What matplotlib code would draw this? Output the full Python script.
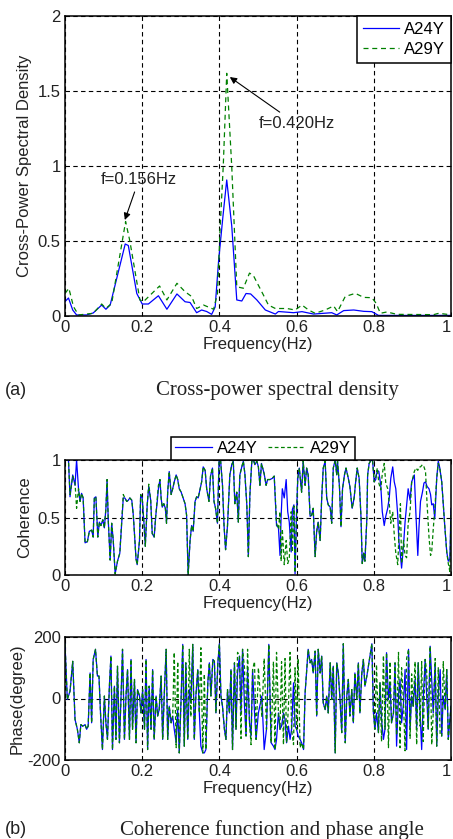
import matplotlib
matplotlib.use('Agg')
import matplotlib.pyplot as plt
import numpy as np

plt.rcParams.update({'font.family': ['Liberation Sans', 'DejaVu Sans'],
                     'font.size': 12})

# (a) cross-power spectral density
cpsd_f_a24 = [0.000, 0.009, 0.020, 0.030, 0.056, 0.073, 0.095, 0.106, 0.117, 0.156,
              0.164, 0.186, 0.200, 0.216, 0.242, 0.264, 0.290, 0.311, 0.324, 0.341,
              0.354, 0.367, 0.380, 0.389, 0.398, 0.409, 0.419, 0.432, 0.445, 0.458,
              0.469, 0.481, 0.497, 0.519, 0.545, 0.553, 0.592, 0.614, 0.644, 0.670,
              0.691, 0.704, 0.722, 0.748, 0.774, 0.795, 0.812, 0.869, 1.000]
cpsd_a24 = [0.096, 0.120, 0.040, 0.007, 0.007, 0.020, 0.073, 0.045, 0.073, 0.480,
            0.470, 0.150, 0.080, 0.080, 0.135, 0.045, 0.147, 0.095, 0.090, 0.022,
            0.040, 0.030, 0.011, 0.060, 0.370, 0.660, 0.907, 0.600, 0.107, 0.100,
            0.150, 0.147, 0.107, 0.040, 0.013, 0.030, 0.022, 0.029, 0.013, 0.018,
            0.022, 0.007, 0.036, 0.040, 0.031, 0.029, 0.004, 0.004, 0.004]

cpsd_f_a29 = [0.000, 0.010, 0.022, 0.035, 0.073, 0.095, 0.106, 0.121, 0.157, 0.168,
              0.194, 0.203, 0.245, 0.264, 0.290, 0.311, 0.328, 0.341, 0.359, 0.385,
              0.395, 0.402, 0.410, 0.419, 0.432, 0.445, 0.462, 0.478, 0.488, 0.514,
              0.527, 0.545, 0.575, 0.596, 0.614, 0.631, 0.648, 0.674, 0.696, 0.706,
              0.726, 0.752, 0.774, 0.795, 0.806, 0.817, 0.834, 0.860, 0.955, 0.968,
              0.990, 1.000]
cpsd_a29 = [0.150, 0.185, 0.062, 0.007, 0.018, 0.080, 0.050, 0.085, 0.630, 0.500,
            0.107, 0.095, 0.200, 0.107, 0.218, 0.162, 0.130, 0.050, 0.073, 0.045,
            0.150, 0.595, 1.000, 1.618, 0.995, 0.195, 0.185, 0.286, 0.270, 0.140,
            0.073, 0.050, 0.050, 0.040, 0.073, 0.040, 0.018, 0.040, 0.067, 0.029,
            0.130, 0.151, 0.124, 0.122, 0.085, 0.018, 0.027, 0.011, 0.009, 0.018,
            0.011, 0.009]

# (b) coherence
coh_f = [0.000, 0.009, 0.013, 0.020, 0.026, 0.030, 0.035, 0.039, 0.043, 0.047,
         0.052, 0.058, 0.063, 0.069, 0.073, 0.076, 0.080, 0.085, 0.089, 0.093,
         0.098, 0.102, 0.106, 0.109, 0.112, 0.117, 0.121, 0.125, 0.130, 0.136,
         0.142, 0.151, 0.155, 0.160, 0.164, 0.168, 0.173, 0.177, 0.184, 0.187,
         0.193, 0.196, 0.200, 0.205, 0.208, 0.213, 0.217, 0.222, 0.226, 0.231,
         0.235, 0.239, 0.242, 0.246, 0.249, 0.252, 0.256, 0.260, 0.263, 0.266,
         0.270, 0.275, 0.279, 0.283, 0.288, 0.292, 0.296, 0.301, 0.305, 0.311,
         0.315, 0.319, 0.324, 0.328, 0.332, 0.337, 0.341, 0.345, 0.350, 0.354,
         0.358, 0.363, 0.367, 0.373, 0.377, 0.382, 0.386, 0.390, 0.395, 0.399,
         0.403, 0.408, 0.412, 0.416, 0.421, 0.427, 0.432, 0.436, 0.440, 0.445,
         0.449, 0.453, 0.458, 0.462, 0.466, 0.471, 0.475, 0.479, 0.484, 0.488,
         0.492, 0.497, 0.501, 0.505, 0.509, 0.516, 0.521, 0.525, 0.531, 0.537,
         0.542, 0.546, 0.548, 0.553, 0.557, 0.560, 0.563, 0.568, 0.573, 0.577,
         0.581, 0.586, 0.589, 0.593, 0.596, 0.600, 0.603, 0.607, 0.613, 0.617,
         0.622, 0.626, 0.630, 0.635, 0.639, 0.643, 0.648, 0.652, 0.656, 0.661,
         0.665, 0.669, 0.674, 0.678, 0.682, 0.687, 0.691, 0.695, 0.700, 0.704,
         0.706, 0.711, 0.715, 0.719, 0.724, 0.728, 0.734, 0.738, 0.744, 0.749,
         0.753, 0.757, 0.762, 0.767, 0.770, 0.774, 0.777, 0.782, 0.784, 0.788,
         0.793, 0.797, 0.801, 0.805, 0.809, 0.813, 0.818, 0.822, 0.827, 0.831,
         0.836, 0.840, 0.844, 0.849, 0.853, 0.857, 0.862, 0.865, 0.869, 0.872,
         0.877, 0.881, 0.885, 0.889, 0.894, 0.898, 0.905, 0.909, 0.914, 0.917,
         0.921, 0.926, 0.930, 0.934, 0.938, 0.943, 0.947, 0.950, 0.954, 0.958,
         0.963, 0.967, 0.971, 0.976, 0.980, 0.984, 0.989, 0.993, 0.997, 1.000]
coh_a24 = [1.00, 1.00, 0.68, 0.87, 0.78, 1.00, 0.75, 0.64, 0.71, 0.67,
           0.28, 0.29, 0.38, 0.39, 0.33, 0.67, 0.68, 0.33, 0.46, 0.43,
           0.48, 0.41, 0.58, 0.83, 0.48, 0.13, 0.45, 0.30, 0.01, 0.12,
           0.19, 0.67, 0.67, 0.64, 0.65, 0.67, 0.65, 0.52, 0.14, 0.09,
           0.30, 0.70, 0.67, 0.43, 0.25, 0.61, 0.77, 0.65, 0.36, 0.33,
           0.51, 0.64, 0.75, 0.83, 0.67, 0.59, 0.62, 0.58, 0.45, 0.72,
           0.90, 0.70, 0.75, 0.81, 0.87, 0.83, 0.75, 0.72, 0.68, 0.62,
           0.52, 0.00, 0.30, 0.43, 0.38, 0.64, 0.68, 0.67, 0.75, 0.81,
           0.94, 0.91, 0.75, 0.64, 0.86, 0.93, 0.64, 0.58, 0.45, 0.99,
           1.00, 0.78, 0.43, 0.22, 0.43, 0.87, 0.96, 0.99, 0.62, 0.72,
           0.46, 0.87, 0.94, 0.99, 0.88, 0.61, 0.16, 0.70, 0.99, 1.00,
           0.96, 0.99, 0.94, 0.78, 0.97, 0.88, 0.78, 0.83, 0.83, 0.84,
           0.86, 0.58, 0.43, 0.41, 0.17, 0.52, 0.75, 0.67, 0.83, 0.55,
           0.46, 0.20, 0.57, 0.61, 0.01, 0.55, 0.84, 0.93, 0.72, 0.99,
           0.78, 0.93, 0.87, 0.51, 0.52, 0.58, 0.16, 0.38, 0.46, 0.30,
           0.67, 0.93, 0.99, 0.67, 0.61, 0.59, 0.45, 0.93, 1.00, 0.87,
           0.99, 0.77, 0.42, 0.75, 0.87, 0.93, 0.84, 0.77, 0.58, 0.67,
           0.81, 0.93, 0.84, 0.49, 0.10, 0.19, 0.12, 0.49, 0.87, 0.97,
           1.00, 0.99, 0.81, 0.83, 0.91, 0.90, 0.78, 0.55, 0.43, 0.51,
           0.58, 0.67, 0.84, 0.94, 0.81, 0.75, 0.52, 0.29, 0.17, 0.06,
           0.26, 0.46, 0.61, 0.75, 0.65, 0.81, 0.87, 0.54, 0.17, 0.41,
           0.64, 0.72, 0.80, 0.81, 0.77, 0.75, 0.70, 0.61, 0.62, 0.49,
           0.84, 0.99, 0.93, 0.81, 0.61, 0.42, 0.20, 0.12, 0.14, 0.58]
coh_a29 = [1.00, 1.00, 0.70, 0.86, 0.80, 0.58, 0.75, 0.64, 0.71, 0.67,
           0.28, 0.29, 0.38, 0.39, 0.33, 0.67, 0.68, 0.33, 0.46, 0.43,
           0.48, 0.41, 0.58, 0.83, 0.48, 0.13, 0.45, 0.30, 0.01, 0.12,
           0.19, 0.70, 0.67, 0.64, 0.65, 0.67, 0.65, 0.52, 0.14, 0.09,
           0.30, 0.70, 0.67, 0.43, 0.25, 0.61, 0.79, 0.65, 0.36, 0.33,
           0.51, 0.66, 0.78, 0.83, 0.67, 0.59, 0.62, 0.58, 0.45, 0.72,
           0.90, 0.70, 0.75, 0.81, 0.87, 0.83, 0.75, 0.72, 0.68, 0.62,
           0.52, 0.00, 0.30, 0.43, 0.38, 0.64, 0.68, 0.67, 0.75, 0.81,
           0.94, 0.91, 0.75, 0.64, 0.86, 0.93, 0.64, 0.58, 0.45, 0.99,
           1.00, 0.78, 0.43, 0.22, 0.43, 0.87, 0.96, 0.99, 0.62, 0.72,
           0.46, 0.87, 0.94, 0.99, 0.88, 0.61, 0.16, 0.70, 0.99, 1.00,
           0.96, 0.99, 0.94, 0.78, 0.97, 0.88, 0.78, 0.83, 0.83, 0.84,
           0.86, 0.60, 0.45, 0.40, 0.55, 0.12, 0.40, 0.09, 0.30, 0.10,
           0.14, 0.55, 0.20, 0.60, 0.02, 0.55, 0.84, 0.93, 0.72, 0.99,
           0.78, 0.93, 0.87, 0.51, 0.52, 0.58, 0.16, 0.38, 0.46, 0.30,
           0.67, 0.93, 0.99, 0.67, 0.61, 0.59, 0.45, 0.93, 1.00, 0.87,
           0.99, 0.77, 0.42, 0.75, 0.87, 0.93, 0.84, 0.77, 0.58, 0.67,
           0.81, 0.93, 0.84, 0.49, 0.10, 0.19, 0.12, 0.49, 0.87, 0.97,
           1.00, 0.99, 0.81, 0.85, 0.93, 0.80, 0.74, 0.88, 0.97, 0.80,
           0.75, 0.62, 0.45, 0.55, 0.35, 0.19, 0.09, 0.33, 0.62, 0.10,
           0.30, 0.17, 0.15, 0.45, 0.55, 0.80, 0.90, 0.93, 0.91, 0.94,
           0.94, 0.96, 0.94, 0.90, 0.62, 0.33, 0.17, 0.20, 0.40, 0.57,
           0.84, 0.97, 0.93, 0.81, 0.61, 0.42, 0.20, 0.10, 0.03, 0.55]

# (b) phase angle
phase_f = [0.000, 0.006, 0.013, 0.020, 0.026, 0.032, 0.037, 0.041, 0.046, 0.052,
           0.056, 0.060, 0.065, 0.069, 0.073, 0.079, 0.084, 0.088, 0.092, 0.097,
           0.102, 0.106, 0.110, 0.115, 0.119, 0.123, 0.128, 0.132, 0.136, 0.141,
           0.145, 0.149, 0.154, 0.158, 0.162, 0.167, 0.171, 0.175, 0.180, 0.184,
           0.188, 0.193, 0.197, 0.201, 0.206, 0.210, 0.214, 0.218, 0.223, 0.227,
           0.231, 0.236, 0.240, 0.244, 0.249, 0.253, 0.257, 0.262, 0.266, 0.270,
           0.275, 0.279, 0.283, 0.288, 0.292, 0.296, 0.301, 0.305, 0.309, 0.313,
           0.318, 0.322, 0.326, 0.331, 0.335, 0.339, 0.344, 0.348, 0.352, 0.357,
           0.361, 0.365, 0.370, 0.374, 0.378, 0.383, 0.387, 0.391, 0.396, 0.400,
           0.404, 0.408, 0.413, 0.417, 0.421, 0.426, 0.430, 0.434, 0.439, 0.443,
           0.447, 0.452, 0.456, 0.460, 0.465, 0.469, 0.473, 0.478, 0.482, 0.486,
           0.491, 0.495, 0.501, 0.510, 0.516, 0.522, 0.528, 0.534, 0.540, 0.544,
           0.548, 0.553, 0.557, 0.561, 0.566, 0.570, 0.574, 0.579, 0.583, 0.587,
           0.592, 0.596, 0.600, 0.604, 0.609, 0.613, 0.618, 0.622, 0.626, 0.630,
           0.635, 0.639, 0.643, 0.648, 0.652, 0.656, 0.661, 0.665, 0.669, 0.674,
           0.678, 0.682, 0.687, 0.691, 0.695, 0.700, 0.704, 0.708, 0.712, 0.717,
           0.721, 0.726, 0.730, 0.734, 0.738, 0.743, 0.747, 0.751, 0.756, 0.760,
           0.764, 0.769, 0.773, 0.777, 0.782, 0.786, 0.790, 0.795, 0.799, 0.803,
           0.807, 0.812, 0.816, 0.820, 0.825, 0.829, 0.833, 0.838, 0.842, 0.846,
           0.851, 0.855, 0.859, 0.864, 0.868, 0.872, 0.877, 0.881, 0.885, 0.890,
           0.894, 0.898, 0.902, 0.907, 0.911, 0.915, 0.920, 0.924, 0.928, 0.933,
           0.937, 0.941, 0.946, 0.950, 0.954, 0.959, 0.963, 0.967, 0.972, 0.976,
           0.980, 0.985, 0.989, 0.993, 1.000]
phase_a24 = [178, -3, 24, 121, -68, -100, -144, -85, -90, -85,
             -100, -90, 83, -79, 127, 160, 73, 73, -47, -166,
             8, -79, -133, 40, 138, -166, 40, -133, 105, -144,
             -3, 160, -133, 8, 94, -133, 127, -100, 62, -144,
             29, 8, -47, 29, -100, 127, -166, 40, -100, 94,
             -133, 8, -57, -36, 73, -133, 8, 160, -133, -25,
             -79, -57, -100, -144, -36, -177, 8, 176, -155, 116,
             -133, 29, -14, 176, -133, 8, 94, -47, -155, -177,
             -177, -166, 51, 116, 8, 127, 121, -47, 116, 178,
             8, -25, -100, -133, 29, -47, 94, -166, 116, -100,
             83, 138, -47, 160, -25, -122, 94, -79, -122, 94,
             -47, -133, -47, 8, -166, -100, 176, -144, -155, -166,
             -133, -47, -100, -90, -47, -68, -144, -90, -133, -100,
             51, -90, -100, -122, -133, -144, -166, 18, 89, 160,
             116, 127, 83, 154, -57, 160, 83, 138, -14, -36,
             8, -47, 116, -3, 105, -177, 116, 83, 8, -111,
             178, -144, 8, 62, -57, 29, -79, 83, -3, 116,
             -47, 83, 127, 40, 73, 105, 138, 178, -47, -100,
             -47, -111, 51, -68, -133, -100, 149, -3, 51, -79,
             -47, 116, -155, 8, 62, -79, -14, 94, -166, 160,
             -100, 8, -25, 62, -100, 116, -47, -166, -3, 127,
             8, -100, 170, 62, -47, 116, -155, 8, 94, -122,
             8, -36, 94, -133, -25]
phase_a29 = [178, -3, 24, 121, -68, -100, -144, -85, -90, -85,
             -100, -90, 83, -79, 127, 160, 73, 73, -47, -166,
             8, -79, -133, 40, 138, -166, 40, -133, 105, -144,
             -3, 160, -133, 8, 94, -133, 127, -100, 62, -144,
             29, 8, -47, 29, -100, 127, -166, 40, -100, 94,
             -133, 8, -57, -36, 73, -133, 8, 160, -133, -25,
             -79, -57, 150, -160, 120, -177, 8, 176, -155, 116,
             -133, 160, -60, 176, -133, 8, 94, -47, 165, -177,
             80, -166, 51, 116, 8, 127, 121, -47, 116, 178,
             8, -25, -100, -133, 29, -47, 94, -166, 116, -100,
             150, 138, -130, 160, 100, -122, 160, -79, -150, 94,
             120, -133, 100, -60, 130, -100, 176, -144, 120, -166,
             150, -47, -100, 120, -150, 130, -144, -20, 150, -100,
             -150, 100, -100, 130, -160, -144, -166, 18, 89, 160,
             116, 127, 83, 154, -57, 160, 83, 138, -14, -36,
             8, -47, 116, -3, 105, -177, 116, 83, 8, -111,
             178, -144, 8, 62, -57, 29, -79, 83, -3, 116,
             -47, 83, 127, 40, 73, 105, 138, 178, -47, -100,
             110, -111, 51, -140, 140, -100, 149, -160, 120, -79,
             -47, 116, -120, 150, -160, 100, -14, -170, 130, 160,
             -130, 80, -25, 120, -150, 116, -90, 120, -140, 127,
             90, -100, 170, -150, -47, 130, -155, 100, -120, -122,
             120, -36, 94, -133, -25]

x_ticks = [0, 0.2, 0.4, 0.6, 0.8, 1]
x_ticklabels = ['0', '0.2', '0.4', '0.6', '0.8', '1']

BLUE = '#0000ff'
GREEN = '#008000'
TXT = '#222222'
W, H = 453, 839


def style_axes(ax, yticks, ylabels, ylim):
    ax.set_xlim(0, 1)
    ax.set_ylim(*ylim)
    ax.set_xticks(x_ticks)
    ax.set_xticklabels(x_ticklabels)
    ax.set_yticks(yticks)
    ax.set_yticklabels(ylabels)
    ax.tick_params(direction='in', length=3, width=0.6, top=True, right=True,
                   labelsize=12, colors='k', labelcolor=TXT, pad=3)
    # last x label sits on the figure edge, keep it inside
    ax.get_xticklabels()[-1].set_horizontalalignment('right')
    ax.grid(True, color='k', linestyle=(0, (4, 3)), linewidth=0.8)
    for s in ax.spines.values():
        s.set_linewidth(1.1)
    ax.set_xlabel('Frequency(Hz)', color=TXT, labelpad=1)


def add_axes(fig, left, top, right, bottom):
    return fig.add_axes([left / W, 1 - bottom / H, (right - left) / W, (bottom - top) / H])


fig = plt.figure(figsize=(W / 100, H / 100), dpi=100)

# panel (a)
ax1 = add_axes(fig, 65, 16, 451, 316)
ax1.plot(cpsd_f_a24, cpsd_a24, color=BLUE, lw=0.9, label='A24Y')
ax1.plot(cpsd_f_a29, cpsd_a29, color=GREEN, lw=0.9, ls=(0, (4, 3)), label='A29Y')
style_axes(ax1, [0, 0.5, 1, 1.5, 2], ['0', '0.5', '1', '1.5', '2'], (0, 2))
ax1.set_ylabel('Cross-Power Spectral Density', color=TXT, labelpad=4)
leg = ax1.legend(loc='upper right', borderaxespad=0, fancybox=False, edgecolor='k',
                 handlelength=2.2, handletextpad=0.3, borderpad=0.35, labelspacing=0.3,
                 framealpha=1)
leg.get_frame().set_linewidth(1.1)
arrow = dict(arrowstyle='-|>', color='k', lw=0.8, mutation_scale=10, shrinkA=2, shrinkB=0)
ax1.annotate('f=0.156Hz', xy=(0.155, 0.64), xytext=(0.192, 0.913), ha='center',
             va='center', color=TXT, arrowprops=arrow)
ax1.annotate('f=0.420Hz', xy=(0.427, 1.593), xytext=(0.600, 1.28), ha='center',
             va='center', color=TXT, arrowprops=arrow)

fig.text(5 / W, 1 - 390 / H, '(a)', ha='left', va='center', fontsize=13, color=TXT)
fig.text(277 / W, 1 - 390 / H, 'Cross-power spectral density', ha='center', va='center',
         fontsize=15, family='Liberation Serif', color=TXT)

# panel (b) coherence
ax2 = add_axes(fig, 65, 460, 451, 575)
ax2.plot(coh_f, coh_a24, color=BLUE, lw=0.9, label='A24Y')
ax2.plot(coh_f, coh_a29, color=GREEN, lw=0.9, ls=(0, (3, 2)), label='A29Y')
style_axes(ax2, [0, 0.5, 1], ['0', '0.5', '1'], (0, 1))
ax2.set_ylabel('Coherence', color=TXT, labelpad=4)
leg2 = ax2.legend(loc='lower center', bbox_to_anchor=(0.513, 1.0), ncol=2, borderaxespad=0,
                  fancybox=False, edgecolor='k', handlelength=2.2, handletextpad=0.3,
                  columnspacing=0.6, borderpad=0.25, framealpha=1)
leg2.get_frame().set_linewidth(1.1)

# panel (b) phase
ax3 = add_axes(fig, 65, 637, 451, 760)
ax3.plot(phase_f, phase_a24, color=BLUE, lw=0.9)
ax3.plot(phase_f, phase_a29, color=GREEN, lw=0.9, ls=(0, (3, 2)))
style_axes(ax3, [-200, 0, 200], ['-200', '0', '200'], (-200, 200))
ax3.set_ylabel('Phase(degree)', color=TXT, labelpad=2)

fig.text(5 / W, 1 - 830 / H, '(b)', ha='left', va='center', fontsize=13, color=TXT)
fig.text(272 / W, 1 - 830 / H, 'Coherence function and phase angle', ha='center',
         va='center', fontsize=15, family='Liberation Serif', color=TXT)

fig.savefig('out.png', dpi=100)
